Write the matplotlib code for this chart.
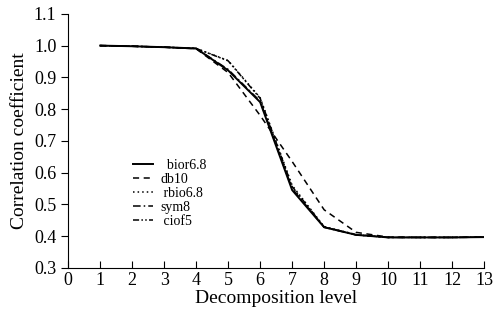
import numpy as np
import matplotlib.pyplot as plt

plt.rcParams['font.family'] = ['Liberation Serif', 'DejaVu Serif']

levels = [1, 2, 3, 4, 5, 6, 7, 8, 9, 10, 11, 12, 13]
bior68 = [1.0, 0.998, 0.995, 0.991, 0.922, 0.822, 0.545, 0.428, 0.404, 0.396, 0.396, 0.396, 0.397]
db10 = [1.0, 0.998, 0.995, 0.990, 0.915, 0.780, 0.635, 0.483, 0.412, 0.397, 0.396, 0.396, 0.397]
rbio68 = [1.0, 0.998, 0.995, 0.991, 0.953, 0.836, 0.560, 0.430, 0.405, 0.396, 0.396, 0.396, 0.397]
sym8 = [1.0, 0.998, 0.995, 0.991, 0.925, 0.825, 0.550, 0.428, 0.404, 0.396, 0.396, 0.396, 0.397]
coif5 = [1.0, 0.998, 0.995, 0.991, 0.952, 0.834, 0.556, 0.429, 0.404, 0.396, 0.396, 0.396, 0.397]

fig = plt.figure(figsize=(4.94, 3.22), dpi=100)
ax = fig.add_axes([0.138, 0.168, 0.842, 0.789])

ax.plot(levels, bior68, color="black", lw=1.4, ls="-", label="  bior6.8")
ax.plot(levels, db10, color="black", lw=1.1, ls=(0, (4, 3)), label="db10")
ax.plot(levels, rbio68, color="black", lw=1.1, ls=(0, (1, 2)), label=" rbio6.8")
ax.plot(levels, sym8, color="black", lw=1.1, ls=(0, (5, 2, 1, 2)), label="sym8")
ax.plot(levels, coif5, color="black", lw=1.1, ls=(0, (4, 1.5, 1, 1.5, 1, 1.5)), label=" ciof5")

ax.set_xlim(0, 13)
ax.set_ylim(0.3, 1.1)
ax.set_xticks(range(0, 14))
ax.set_yticks(np.arange(0.3, 1.11, 0.1))
ax.set_yticklabels(["%.1f" % v for v in np.arange(0.3, 1.11, 0.1)])
ax.spines["top"].set_visible(False)
ax.spines["right"].set_visible(False)
ax.tick_params(axis="x", direction="in", length=5, labelsize=13, pad=3)
ax.tick_params(axis="y", direction="out", length=5, labelsize=13)
ax.set_xlabel("Decomposition level", fontsize=14, labelpad=1)
ax.set_ylabel("Correlation coefficient", fontsize=14, labelpad=4)

ax.legend(loc="upper left", bbox_to_anchor=(0.156, 0.43), frameon=False,
          fontsize=10, handlelength=1.45, labelspacing=0.08, handletextpad=0.5,
          borderpad=0, borderaxespad=0)

fig.savefig("out.png", dpi=100)
